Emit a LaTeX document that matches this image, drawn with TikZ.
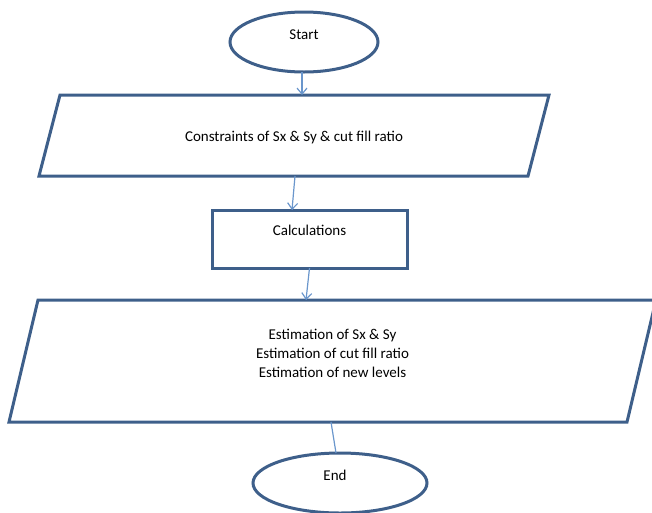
\documentclass[tikz,border=0pt]{standalone}
\usepackage{fontspec}
\setmainfont{Carlito}
\usetikzlibrary{shapes.geometric,arrows.meta,calc}
\definecolor{shapeline}{HTML}{3E5F8A}
\definecolor{connline}{HTML}{6A96CC}
\begin{document}
\begin{tikzpicture}[x=1pt,y=-1pt,
  shp/.style={draw=shapeline,line width=3pt,fill=white,inner sep=0pt,outer sep=0pt},
  border/.style={draw=shapeline,line width=3pt,line join=miter},
  term/.style={shp,ellipse},
  frame/.style={rectangle,inner sep=0pt,outer sep=0pt},
  proc/.style={shp,rectangle},
  lbl/.style={font=\fontsize{15}{19}\selectfont,align=center,text=black},
  conn/.style={draw=connline,line width=1.2pt},
  arr/.style={conn,-{Straight Barb[length=6pt,width=10pt,line width=1.2pt]}}
]
\useasboundingbox (0,0) rectangle (652,512);

\node[term,minimum width=148pt,minimum height=60pt,
  label={[lbl,yshift=7pt]center:Start}] (start) at (304,42) {};

% input/output parallelogram 1
\node[frame,minimum width=510pt,minimum height=81pt] (p1) at (294,135.5) {};
\draw[border] (p1.south west) -- ([xshift=21pt]p1.north west) -- (p1.north east)
  -- ([xshift=-21pt]p1.south east) -- cycle;
\node[lbl,yshift=-1.5pt] (p1text) at (p1.center) {Constraints of Sx \& Sy \& cut fill ratio};

\node[proc,minimum width=195pt,minimum height=58pt,
  label={[lbl,yshift=9pt]center:Calculations}] (calc) at (309.5,239) {};

% input/output parallelogram 2
\node[frame,minimum width=647pt,minimum height=122pt] (p2) at (332.5,361) {};
\draw[border] (p2.south west) -- ([xshift=29pt]p2.north west) -- (p2.north east)
  -- ([xshift=-29pt]p2.south east) -- cycle;
\node[lbl,yshift=8pt] (p2text) at (p2.center) {Estimation of Sx \& Sy\\Estimation of cut fill ratio\\Estimation of new levels};

\node[term,minimum width=174pt,minimum height=60pt,
  label={[lbl,yshift=8pt,xshift=-5pt]center:End}] (end) at (340,483) {};

\draw[arr] ([xshift=-2pt]start.south) -- ([xshift=-2pt]start.south |- p1.north);
\draw[arr] ([xshift=1pt]p1.south) -- ([xshift=-17.5pt]calc.north);
\draw[arr] (calc.south) -- ([xshift=-26.5pt]p2.north);
\draw[conn] ([xshift=-1.5pt]p2.south) -- ([xshift=-4pt]end.north);
\end{tikzpicture}
\end{document}
